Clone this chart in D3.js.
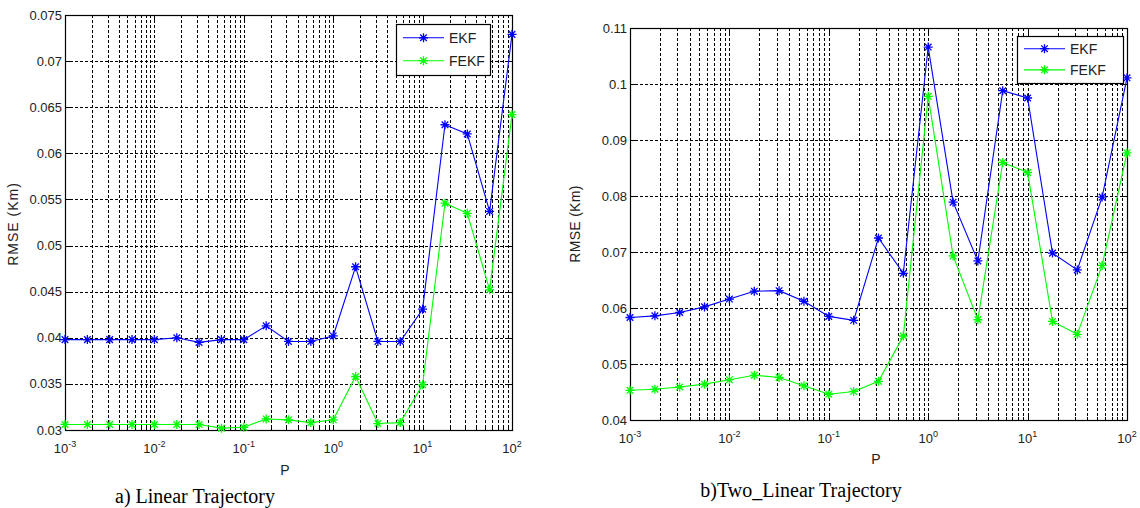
<!DOCTYPE html>
<html><head><meta charset="utf-8">
<script src="https://cdn.jsdelivr.net/npm/d3@7"></script>
<style>body{margin:0;background:#fff}svg{display:block}</style>
</head><body>
<svg id="c" width="1140" height="508"></svg>
<script>
// ---- data ----
const P = [0.001, 0.00178, 0.00316, 0.00562, 0.01, 0.0178, 0.0316, 0.0562, 0.1, 0.178, 0.316, 0.562, 1, 1.78, 3.16, 5.62, 10, 17.8, 31.6, 56.2, 100];
const ekfA  = [0.0398,0.0398,0.0398,0.0398,0.0398,0.0400,0.0395,0.0398,0.0398,0.0413,0.0396,0.0396,0.0402,0.0477,0.0396,0.0396,0.0431,0.0631,0.0621,0.0537,0.0729];
const fekfA = [0.0306,0.0306,0.0306,0.0306,0.0306,0.0306,0.0306,0.0302,0.0303,0.0312,0.0311,0.0308,0.0311,0.0358,0.0307,0.0308,0.0349,0.0546,0.0535,0.0452,0.0642];
const ekfB  = [0.0583,0.0586,0.0592,0.0602,0.0616,0.0630,0.0631,0.0612,0.0585,0.0578,0.0725,0.0662,0.1066,0.0789,0.0684,0.0988,0.0975,0.0698,0.0668,0.0798,0.1011];
const fekfB = [0.0453,0.0455,0.0459,0.0464,0.0472,0.0480,0.0476,0.0461,0.0446,0.0451,0.0469,0.0550,0.0978,0.0693,0.0579,0.0860,0.0842,0.0576,0.0553,0.0676,0.0877];
const yTicksA = [0.03,0.035,0.04,0.045,0.05,0.055,0.06,0.065,0.07,0.075];
const yLabelsA = ["0.03","0.035","0.04","0.045","0.05","0.055","0.06","0.065","0.07","0.075"];
const yTicksB = [0.04,0.05,0.06,0.07,0.08,0.09,0.1,0.11];
const yLabelsB = ["0.04","0.05","0.06","0.07","0.08","0.09","0.1","0.11"];
const xExps = [-3,-2,-1,0,1,2];
const seriesNames = ["EKF","FEKF"];
const seriesColors = ["#0000ff","#00ff00"];

const svg = d3.select("#c");

function star(g, x, y, color){
  const r = 4.5, d = 3.3;
  g.append("path")
    .attr("d", `M${x-r},${y}H${x+r}M${x},${y-r}V${y+r}M${x-d},${y-d}L${x+d},${y+d}M${x-d},${y+d}L${x+d},${y-d}`)
    .attr("stroke", color).attr("stroke-width", 1.3).attr("fill","none");
}

function panel(cfg){
  const g = svg.append("g");
  const x = d3.scaleLog().domain([1e-3,1e2]).range([cfg.x0,cfg.x1]);
  const y = d3.scaleLinear().domain(cfg.ydom).range([cfg.y1,cfg.y0]);
  const xg = [];
  for (let e=-3;e<2;e++) for (let m=1;m<10;m++) xg.push(m*Math.pow(10,e));
  xg.push(100);
  g.append("g").selectAll("line").data(xg.filter(v=>v>1e-3 && v<1e2)).join("line")
    .attr("x1",d=>Math.round(x(d))+0.5).attr("x2",d=>Math.round(x(d))+0.5)
    .attr("y1",cfg.y0).attr("y2",cfg.y1)
    .attr("stroke","#000").attr("stroke-width",1).attr("stroke-dasharray","3,2");
  g.append("g").selectAll("line").data(cfg.yt.slice(1,-1)).join("line")
    .attr("x1",cfg.x0).attr("x2",cfg.x1)
    .attr("y1",d=>Math.round(y(d))+0.5).attr("y2",d=>Math.round(y(d))+0.5)
    .attr("stroke","#000").attr("stroke-width",1).attr("stroke-dasharray","3,2");
  g.append("rect").attr("x",cfg.x0+0.5).attr("y",cfg.y0+0.5)
    .attr("width",cfg.x1-cfg.x0).attr("height",cfg.y1-cfg.y0)
    .attr("fill","none").attr("stroke","#000").attr("stroke-width",1.2);
  g.append("g").selectAll("text").data(cfg.yt).join("text")
    .attr("x",cfg.x0-3).attr("y",d=>y(d)+4.5)
    .attr("text-anchor","end").attr("font-family","Liberation Sans, Arial, sans-serif")
    .attr("font-size",13).attr("fill","#222")
    .text((d,i)=>cfg.yl[i]);
  g.append("g").selectAll("path").data(cfg.yt).join("path")
    .attr("d",d=>`M${cfg.x0},${Math.round(y(d))+0.5}h5M${cfg.x1},${Math.round(y(d))+0.5}h-5`)
    .attr("stroke","#000");
  const xl = g.append("g").selectAll("text").data(xExps).join("text")
    .attr("x",d=>x(Math.pow(10,d))).attr("y",cfg.y1+23)
    .attr("text-anchor","middle").attr("font-family","Liberation Sans, Arial, sans-serif")
    .attr("font-size",13).attr("fill","#222");
  xl.append("tspan").text("10");
  xl.append("tspan").attr("dy",-6).attr("font-size",9).text(d=>d);
  g.append("g").selectAll("path").data(xg).join("path")
    .attr("d",d=>`M${Math.round(x(d))+0.5},${cfg.y1}v-${Number.isInteger(Math.log10(d))?5:3}M${Math.round(x(d))+0.5},${cfg.y0}v${Number.isInteger(Math.log10(d))?5:3}`)
    .attr("stroke","#000");
  g.append("text").attr("x",cfg.px).attr("y",cfg.py)
    .attr("text-anchor","middle").attr("font-family","Liberation Sans, Arial, sans-serif")
    .attr("font-size",14).attr("fill","#222").text("P");
  g.append("text").attr("transform",`translate(${cfg.rx},${cfg.ry}) rotate(-90)`)
    .attr("text-anchor","middle").attr("font-family","Liberation Sans, Arial, sans-serif")
    .attr("font-size",14).attr("letter-spacing",cfg.ls).attr("fill","#222").text("RMSE (Km)");
  const line = d3.line().x((d,i)=>x(P[i])).y(d=>y(d));
  cfg.series.forEach((s,k)=>{
    g.append("path").datum(s).attr("d",line).attr("fill","none")
      .attr("stroke",seriesColors[k]).attr("stroke-width",1.1);
    s.forEach((v,i)=>star(g,x(P[i]),y(v),seriesColors[k]));
  });
  const L = cfg.leg;
  g.append("rect").attr("x",L.x+0.5).attr("y",L.y+0.5).attr("width",L.w).attr("height",L.h)
    .attr("fill","#fff").attr("stroke","#000").attr("stroke-width",1.2);
  seriesNames.forEach((n,k)=>{
    const ly = L.y + L.h*(k===0?0.27:0.72);
    g.append("line").attr("x1",L.x+7).attr("x2",L.x+48).attr("y1",ly).attr("y2",ly)
      .attr("stroke",seriesColors[k]).attr("stroke-width",1.1);
    star(g,L.x+27.5,ly,seriesColors[k]);
    g.append("text").attr("x",L.x+53).attr("y",ly+5).attr("font-family","Liberation Sans, Arial, sans-serif")
      .attr("font-size",14).attr("fill","#222").text(n);
  });
  g.append("text").attr("x",cfg.cx).attr("y",cfg.cy).attr("text-anchor","middle")
    .attr("font-family","Liberation Serif, Times New Roman, serif").attr("font-size",20)
    .attr("fill","#000").text(cfg.caption);
}

panel({x0:65,x1:512,y0:15,y1:430,ydom:[0.03,0.075],yt:yTicksA,yl:yLabelsA,
  px:285,py:475,rx:18,ry:224,ls:1,series:[ekfA,fekfA],
  leg:{x:396,y:24,w:94,h:51},cx:195,cy:503,caption:"a) Linear Trajectory"});
panel({x0:630,x1:1127,y0:28,y1:420,ydom:[0.04,0.11],yt:yTicksB,yl:yLabelsB,
  px:876,py:464,rx:580,ry:224,ls:0.3,series:[ekfB,fekfB],
  leg:{x:1017,y:36,w:106,h:47},cx:801,cy:497,caption:"b)Two_Linear Trajectory"});
</script>
</body></html>
